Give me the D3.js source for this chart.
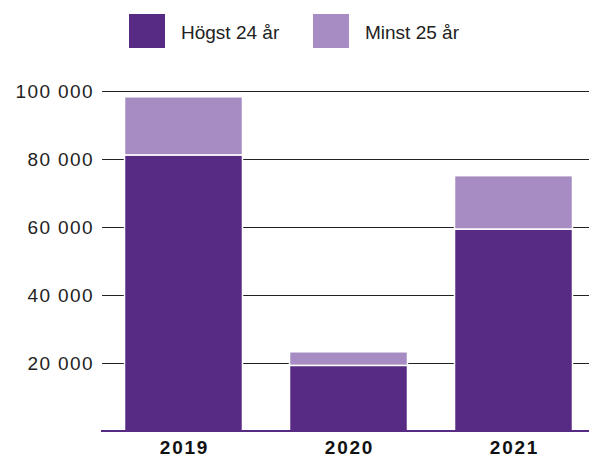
<!DOCTYPE html>
<html>
<head>
<meta charset="utf-8">
<script src="https://cdn.jsdelivr.net/npm/d3@7"></script>
<style>
  html, body { margin: 0; padding: 0; background: #fff; }
  svg { display: block; font-family: "Liberation Sans", Arial, sans-serif; }
</style>
</head>
<body>
<svg id="chart" width="589" height="457"></svg>
<script>
const categories = ["2019", "2020", "2021"];
const seriesNames = ["Högst 24 år", "Minst 25 år"];
const hogst24 = [81200, 19300, 59400];
const minst25 = [17100, 4000, 15700];
const tickValues = [20000, 40000, 60000, 80000, 100000];
const tickLabels = ["20 000", "40 000", "60 000", "80 000", "100 000"];
const colors = ["#572a84", "#a68cc2"];

(function () {
const svg = d3.select("#chart");
const W = 589;
const mLeft = 101, mRight = 596, mTop = 91, mBottom = 431;

const x = d3.scaleBand().domain(categories).range([mLeft, mRight])
  .paddingInner(0.285).paddingOuter(0.1425);
const y = d3.scaleLinear().domain([0, 100000]).range([mBottom, mTop]);

// gridlines
svg.append("g").selectAll("line").data(tickValues).join("line")
  .attr("x1", 102).attr("x2", W)
  .attr("y1", d => Math.round(y(d)) + 0.5).attr("y2", d => Math.round(y(d)) + 0.5)
  .attr("stroke", "#222").attr("stroke-width", 1);

const yAxis = d3.axisLeft(y).tickValues(tickValues)
  .tickFormat((d, i) => tickLabels[i]).tickSize(0).tickPadding(0);
const gy = svg.append("g").attr("transform", "translate(94,0)").call(yAxis);
gy.select(".domain").remove();
gy.selectAll("text")
  .attr("font-size", 19).attr("fill", "#222")
  .attr("font-family", "Liberation Sans, Arial, sans-serif")
  .attr("letter-spacing", "1.4px")
  .attr("dy", "0.32em");

// stacked data
const rows = categories.map((c, i) => ({cat: c, a: hogst24[i], b: minst25[i]}));
const stack = d3.stack().keys(["a", "b"])(rows);

svg.append("g").selectAll("g").data(stack).join("g")
  .attr("fill", (d, i) => colors[i])
  .selectAll("rect").data(d => d).join("rect")
  .attr("x", d => x(d.data.cat))
  .attr("width", x.bandwidth())
  .attr("y", d => y(d[1]))
  .attr("height", d => y(d[0]) - y(d[1]))
  .attr("stroke", "#fff").attr("stroke-width", 1.5);

// baseline
svg.append("line")
  .attr("x1", mLeft).attr("x2", W)
  .attr("y1", y(0)).attr("y2", y(0))
  .attr("stroke", colors[0]).attr("stroke-width", 2);

// x axis labels
const xAxis = d3.axisBottom(x).tickSize(0).tickPadding(0);
const gx = svg.append("g").attr("transform", `translate(0,${mBottom})`).call(xAxis);
gx.select(".domain").remove();
gx.selectAll("text")
  .attr("font-size", 19).attr("font-weight", "bold").attr("fill", "#111")
  .attr("font-family", "Liberation Sans, Arial, sans-serif")
  .attr("letter-spacing", "1.8px")
  .attr("y", 0).attr("dy", 0)
  .attr("transform", "translate(1,23)");

// legend
const legendX = [129, 313];
const lg = svg.append("g").selectAll("g").data(seriesNames).join("g")
  .attr("transform", (d, i) => `translate(${legendX[i]},14)`);
lg.append("rect").attr("width", 36).attr("height", 34)
  .attr("fill", (d, i) => colors[i]);
lg.append("text").attr("x", 52).attr("y", 24.5)
  .attr("font-size", 19).attr("fill", "#222")
  .text(d => d);
})();
</script>
</body>
</html>
